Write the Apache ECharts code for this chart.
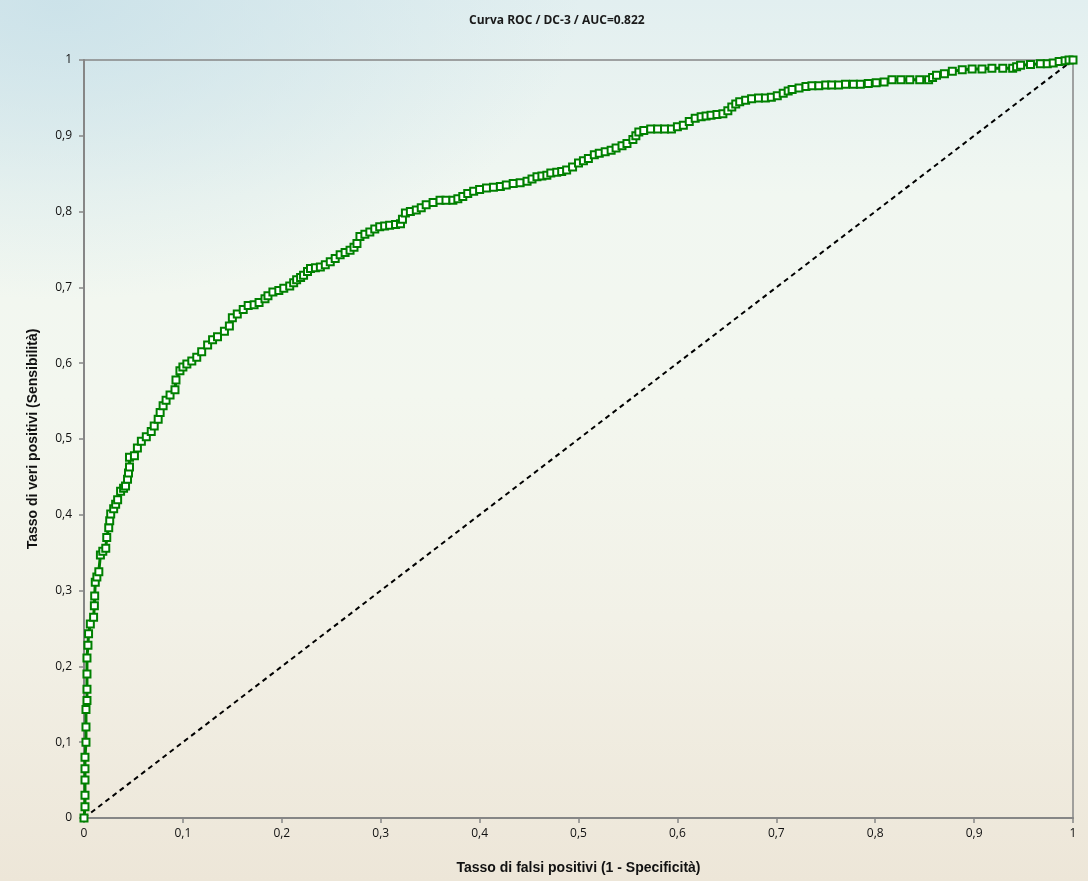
<!DOCTYPE html>
<html>
<head>
<meta charset="utf-8">
<script src="https://cdn.jsdelivr.net/npm/echarts@6/dist/echarts.min.js"></script>
<style>
  html, body { margin: 0; padding: 0; }
  #chart {
    width: 1088px;
    height: 881px;
    background:
      radial-gradient(ellipse 520px 300px at 60px 0px, rgba(200, 224, 232, 0.85), rgba(200, 224, 232, 0) 100%),
      linear-gradient(180deg, #e2eff0 0%, #f1f7f1 22%, #f3f7ef 45%, #f2f1e7 70%, #ede6d8 100%);
  }
</style>
</head>
<body>
<div id="chart"></div>
<script>
// ROC curve points: false positive rate / true positive rate
const fpr = [
  0, 0.001, 0.001, 0.001, 0.001, 0.001, 0.002, 0.002, 0.002, 0.003, 0.003, 0.003, 0.003, 0.004, 0.0046,
  0.0064, 0.0097, 0.0105, 0.0108, 0.0114, 0.013, 0.015, 0.0166, 0.019, 0.022, 0.023, 0.025, 0.026, 0.027,
  0.030, 0.032, 0.034, 0.037, 0.040, 0.042, 0.044, 0.045, 0.046, 0.046, 0.051, 0.054, 0.058, 0.063, 0.068,
  0.071, 0.075, 0.077, 0.080, 0.083, 0.087, 0.092, 0.093, 0.097, 0.100, 0.104, 0.109, 0.114, 0.119, 0.125,
  0.130, 0.135, 0.142, 0.147, 0.150, 0.155, 0.161, 0.166, 0.172, 0.177, 0.183, 0.186, 0.191,
  0.197, 0.202, 0.208, 0.212, 0.215, 0.219, 0.222, 0.226, 0.229, 0.234, 0.239, 0.244, 0.249, 0.254, 0.259,
  0.264, 0.269, 0.273, 0.276, 0.279, 0.284, 0.289, 0.294, 0.299, 0.304, 0.309, 0.315, 0.320, 0.322, 0.325,
  0.330, 0.336, 0.341, 0.346, 0.353, 0.360, 0.366, 0.373, 0.378, 0.383, 0.388, 0.394, 0.400, 0.407, 0.414,
  0.421, 0.427, 0.434, 0.441, 0.448, 0.453, 0.458, 0.463,
  0.468, 0.472, 0.478, 0.483, 0.488, 0.494, 0.500, 0.505, 0.510, 0.516, 0.521, 0.527, 0.533, 0.538, 0.544,
  0.549, 0.555, 0.558, 0.561, 0.566, 0.573, 0.580, 0.587, 0.594, 0.600, 0.606, 0.612, 0.618, 0.624, 0.629,
  0.634, 0.640, 0.646, 0.651, 0.655, 0.659, 0.663, 0.669, 0.675, 0.682, 0.689, 0.695, 0.701, 0.707, 0.712,
  0.716, 0.723, 0.730, 0.736, 0.743, 0.750, 0.756, 0.763, 0.770, 0.778, 0.785, 0.793, 0.801, 0.809, 0.817,
  0.826, 0.835, 0.845, 0.854, 0.858, 0.862, 0.870, 0.878, 0.888, 0.898, 0.908, 0.918, 0.929, 0.939, 0.943,
  0.947, 0.957, 0.967, 0.974, 0.980, 0.986, 0.992, 0.996, 1
];
const tpr = [
  0, 0.015, 0.03, 0.05, 0.065, 0.08, 0.10, 0.12, 0.143, 0.155, 0.17, 0.19, 0.211, 0.228, 0.243,
  0.256, 0.265, 0.28, 0.293, 0.311, 0.318, 0.325, 0.347, 0.352, 0.356, 0.370, 0.383, 0.392, 0.401,
  0.408, 0.414, 0.420, 0.431, 0.435, 0.438, 0.447, 0.455, 0.463, 0.476, 0.478, 0.488, 0.497, 0.503, 0.510,
  0.517, 0.526, 0.535, 0.544, 0.551, 0.558, 0.565, 0.578, 0.590, 0.595, 0.599, 0.603, 0.608, 0.615, 0.624,
  0.631, 0.635, 0.642, 0.649, 0.660, 0.665, 0.671, 0.676, 0.677, 0.680, 0.685, 0.689, 0.694,
  0.696, 0.699, 0.702, 0.706, 0.710, 0.713, 0.716, 0.721, 0.725, 0.726, 0.727, 0.730, 0.734, 0.738, 0.743,
  0.746, 0.749, 0.753, 0.758, 0.767, 0.770, 0.773, 0.777, 0.780, 0.781, 0.782, 0.783, 0.784, 0.790, 0.798,
  0.800, 0.802, 0.805, 0.809, 0.812, 0.815, 0.815, 0.815, 0.817, 0.820, 0.824, 0.827, 0.829, 0.831, 0.832,
  0.833, 0.835, 0.837, 0.838, 0.840, 0.843, 0.846, 0.847,
  0.848, 0.851, 0.852, 0.853, 0.855, 0.859, 0.864, 0.867, 0.870, 0.875, 0.877, 0.879, 0.881, 0.884, 0.887,
  0.890, 0.895, 0.900, 0.905, 0.907, 0.909, 0.909, 0.909, 0.909, 0.912, 0.914, 0.919, 0.923, 0.925, 0.926,
  0.927, 0.928, 0.929, 0.933, 0.938, 0.942, 0.945, 0.947, 0.949, 0.950, 0.950, 0.951, 0.953, 0.956, 0.959,
  0.961, 0.963, 0.965, 0.966, 0.966, 0.967, 0.967, 0.967, 0.968, 0.968, 0.968, 0.969, 0.970, 0.971, 0.974,
  0.974, 0.974, 0.974, 0.974, 0.977, 0.980, 0.982, 0.985, 0.987, 0.988, 0.988, 0.989, 0.989, 0.989, 0.991,
  0.993, 0.994, 0.995, 0.995, 0.996, 0.998, 0.999, 1, 1
];

// random-classifier reference line
const refX = [0, 1];
const refY = [0, 1];

const titleText = "Curva ROC / DC-3 / AUC=0.822";
const xName = "Tasso di falsi positivi (1 - Specificità)";
const yName = "Tasso di veri positivi (Sensibilità)";

let rocData = fpr.map((v, i) => [v, tpr[i]]);
let refData = refX.map((v, i) => [v, refY[i]]);

let fmt = function (v) {
  return String(Math.round(v * 10) / 10).replace(".", ",");
};

let chart = echarts.init(document.getElementById("chart"));
chart.setOption({
  backgroundColor: "transparent",
  animation: false,
  title: {
    text: titleText,
    left: 464,
    top: 10,
    textStyle: {
      fontFamily: "Open Sans",
      fontWeight: "bold",
      fontSize: 12,
      color: "#1a1a1a"
    }
  },
  grid: {
    left: 84,
    right: 15,
    top: 60,
    bottom: 63,
    show: true,
    borderColor: "#868686",
    borderWidth: 1.5,
    backgroundColor: "transparent"
  },
  xAxis: {
    type: "value",
    min: 0,
    max: 1,
    interval: 0.1,
    name: xName,
    nameLocation: "middle",
    nameGap: 43,
    nameTextStyle: {
      fontFamily: "Liberation Sans",
      fontWeight: "bold",
      fontSize: 14,
      color: "#111"
    },
    splitLine: {show: false},
    axisLine: {lineStyle: {color: "#868686", width: 2}},
    axisTick: {length: 5, lineStyle: {color: "#868686", width: 1.5}},
    axisLabel: {
      formatter: fmt,
      margin: 10,
      fontFamily: "Open Sans",
      fontSize: 12,
      color: "#111"
    }
  },
  yAxis: {
    type: "value",
    min: 0,
    max: 1,
    interval: 0.1,
    name: yName,
    nameLocation: "middle",
    nameGap: 44,
    nameTextStyle: {
      fontFamily: "Liberation Sans",
      fontWeight: "bold",
      fontSize: 14,
      color: "#111"
    },
    splitLine: {show: false},
    axisLine: {show: true, lineStyle: {color: "#868686", width: 2}},
    axisTick: {show: true, length: 5, lineStyle: {color: "#868686", width: 1.5}},
    axisLabel: {
      formatter: fmt,
      margin: 12,
      fontFamily: "Open Sans",
      fontSize: 12,
      color: "#111"
    }
  },
  series: [
    {
      type: "line",
      data: refData,
      symbol: "none",
      lineStyle: {color: "#000", width: 2, type: [5, 4]},
      z: 3
    },
    {
      type: "line",
      data: rocData,
      symbol: "rect",
      symbolSize: 7,
      showAllSymbol: true,
      lineStyle: {color: "#008000", width: 3},
      itemStyle: {color: "#ffffff", borderColor: "#008000", borderWidth: 2},
      z: 4
    }
  ]
});
</script>
</body>
</html>
